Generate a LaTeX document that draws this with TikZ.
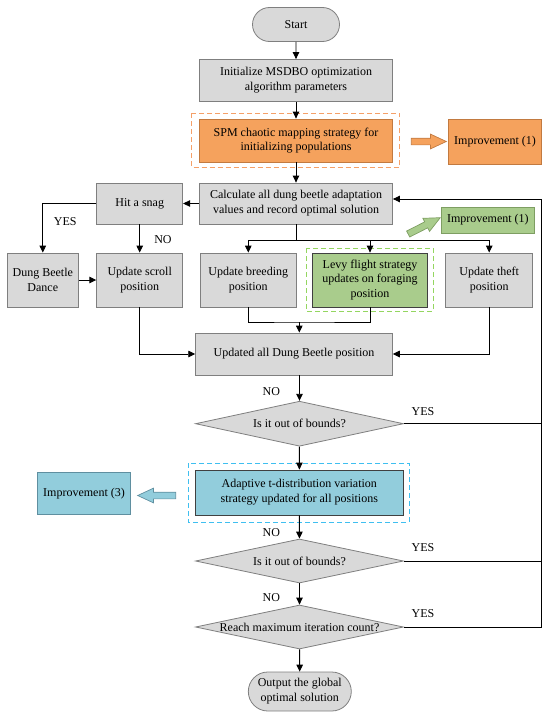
\documentclass[tikz,border=0pt]{standalone}
\usepackage{fontspec}
\setmainfont{Liberation Serif}
\usetikzlibrary{shapes.geometric,shapes.arrows,shapes.misc,arrows.meta}
\definecolor{gfill}{HTML}{D9D9D9}
\definecolor{gdraw}{HTML}{7F7F7F}
\definecolor{ofill}{HTML}{F5A25D}
\definecolor{odraw}{HTML}{C27A40}
\definecolor{odash}{HTML}{F5A068}
\definecolor{grfill}{HTML}{A9CC8C}
\definecolor{grdraw}{HTML}{7E9E62}
\definecolor{grdash}{HTML}{94D660}
\definecolor{bfill}{HTML}{92CDDC}
\definecolor{bdraw}{HTML}{5F8FA0}
\definecolor{bdash}{HTML}{3FBFF0}
\tikzset{
  txt/.style={font=\fontsize{12}{14.8}\selectfont, align=center},
  box/.style={txt, draw=gdraw, fill=gfill, line width=0.8pt, inner sep=0pt},
  term/.style={box, rounded rectangle},
  dia/.style={diamond, draw=gdraw, fill=gfill, line width=0.8pt, inner sep=0pt},
  frame/.style={dashed, line width=1pt, dash pattern=on 5pt off 3pt},
  conn/.style={line width=0.9pt, black},
  arr/.style={conn, -{Triangle[length=7pt,width=6.5pt]}},
  blk/.style={single arrow, single arrow head extend=4pt, single arrow head indent=0pt,
    single arrow tip angle=50, inner xsep=0pt, inner ysep=3pt, minimum width=14pt, line width=0.7pt},
  lab/.style={txt}
}
\begin{document}
\begin{tikzpicture}[x=1pt,y=-1pt]
\useasboundingbox (0,0) rectangle (550,717);
% frames
\draw[frame, draw=odash] (191.5,113) rectangle (399.8,167);
\draw[frame, draw=grdash] (306,248) rectangle (433,311);
\draw[frame, draw=bdash] (188.3,463) rectangle (409.2,522);
% nodes
\node[term, minimum width=87pt, minimum height=34pt] (start) at (296,24.5) {Start};
\node[box, minimum width=193pt, minimum height=42pt] (init) at (296,80.5) {Initialize MSDBO optimization\\algorithm parameters};
\node[box, fill=ofill, draw=odraw, minimum width=193pt, minimum height=43pt] (spm) at (296,140.5) {SPM chaotic mapping strategy for\\initializing populations};
\node[box, fill=ofill, draw=odraw, minimum width=93.6pt, minimum height=45pt] (imp1) at (495,141.5) {Improvement (1)};
\node[blk, fill=ofill, draw=odraw, minimum height=35pt] (ba1) at (425.2,141.5) {};
\node[box, minimum width=193pt, minimum height=41pt] (calc) at (296,203.5) {Calculate all dung beetle adaptation\\values and record optimal solution};
\node[box, minimum width=86pt, minimum height=41pt] (snag) at (139.7,203.5) {Hit a snag};
\node[box, fill=grfill, draw=grdraw, minimum width=92.3pt, minimum height=26pt] (imp2) at (487.9,220) {Improvement (1)};
\node[blk, fill=grfill, draw=grdraw, minimum height=36pt, rotate=27] (ba2) at (421,227.5) {};
\node[box, minimum width=71pt, minimum height=54pt] (dance) at (42.8,280) {Dung Beetle\\Dance};
\node[box, minimum width=86pt, minimum height=54pt] (scroll) at (139.7,280) {Update scroll\\position};
\node[box, minimum width=96.8pt, minimum height=54pt] (breed) at (248.3,280) {Update breeding\\position};
\node[box, fill=grfill, draw=black!75, minimum width=115pt, minimum height=54pt] (levy) at (370,280) {Levy flight strategy\\updates on foraging\\position};
\node[box, minimum width=87pt, minimum height=54pt] (theft) at (489.2,280) {Update theft\\position};
\node[box, minimum width=196.7pt, minimum height=42pt] (upd) at (294,354) {Updated all Dung Beetle position};
\node[dia, minimum width=208pt, minimum height=45pt] (d1) at (299.5,423.7) {};
\node[txt] (t1) at (d1) {Is it out of bounds?};
\node[box, fill=bfill, draw=black!75, minimum width=207.2pt, minimum height=45pt] (adapt) at (299.3,492.5) {Adaptive t-distribution variation\\strategy updated for all positions};
\node[box, fill=bfill, draw=bdraw, minimum width=93pt, minimum height=42pt] (imp3) at (84,493.5) {Improvement (3)};
\node[blk, fill=bfill, draw=bdraw, minimum height=38pt, shape border rotate=180] (ba3) at (160.3,495.5) {};
\node[dia, minimum width=208pt, minimum height=44pt] (d2) at (299.5,561) {};
\node[txt] (t2) at (d2) {Is it out of bounds?};
\node[dia, minimum width=208pt, minimum height=44pt] (d3) at (299.5,627) {};
\node[txt] (t3) at (d3) {Reach maximum iteration count?};
\node[term, minimum width=103pt, minimum height=39pt] (end) at (299.8,691.5) {Output the global\\optimal solution};
% labels
\node[lab] (yes0) at (65.2,222) {YES};
\node[lab] (no0) at (163,240) {NO};
\node[lab] (no1) at (271.4,392) {NO};
\node[lab] (yes1) at (423,412) {YES};
\node[lab] (no2) at (271.4,533) {NO};
\node[lab] (yes2) at (423,548) {YES};
\node[lab] (no3) at (271.4,598) {NO};
\node[lab] (yes3) at (423,614) {YES};
% coordinates
\coordinate (bj) at (296,240);
\coordinate (mj) at (299.3,322);
\coordinate (rt) at (541.7,199);
% connectors
\draw[arr] (start) -- (init);
\draw[arr] (init) -- (spm);
\draw[arr] (spm) -- (calc);
\draw[arr] (calc) -- (snag);
\draw[arr] (snag.west) -| (dance.north);
\draw[arr] (snag) -- (scroll);
\draw[arr] (dance) -- (scroll);
\draw[conn] (calc.south) -- (bj);
\draw[arr] (bj) -| (breed.north);
\draw[arr] (bj) -| (levy.north);
\draw[arr] (bj) -| (theft.north);
\draw[conn] (breed.south) |- (mj) -| (levy.south);
\draw[arr] (mj) -- (mj |- upd.north);
\draw[arr] (scroll.south) |- (upd.west);
\draw[arr] (theft.south) |- (upd.east);
\draw[arr] (upd.south -| d1.north) -- (d1.north);
\draw[arr] (d1) -- (adapt);
\draw[arr] (adapt) -- (d2);
\draw[arr] (d2) -- (d3);
\draw[arr] (d3) -- (end);
\draw[conn] (d1.east) -- (rt |- d1.east);
\draw[conn] (d2.east) -- (rt |- d2.east);
\draw[arr] (d3.east) -- (rt |- d3.east) -- (rt) -- (calc.east |- rt);
\end{tikzpicture}
\end{document}
